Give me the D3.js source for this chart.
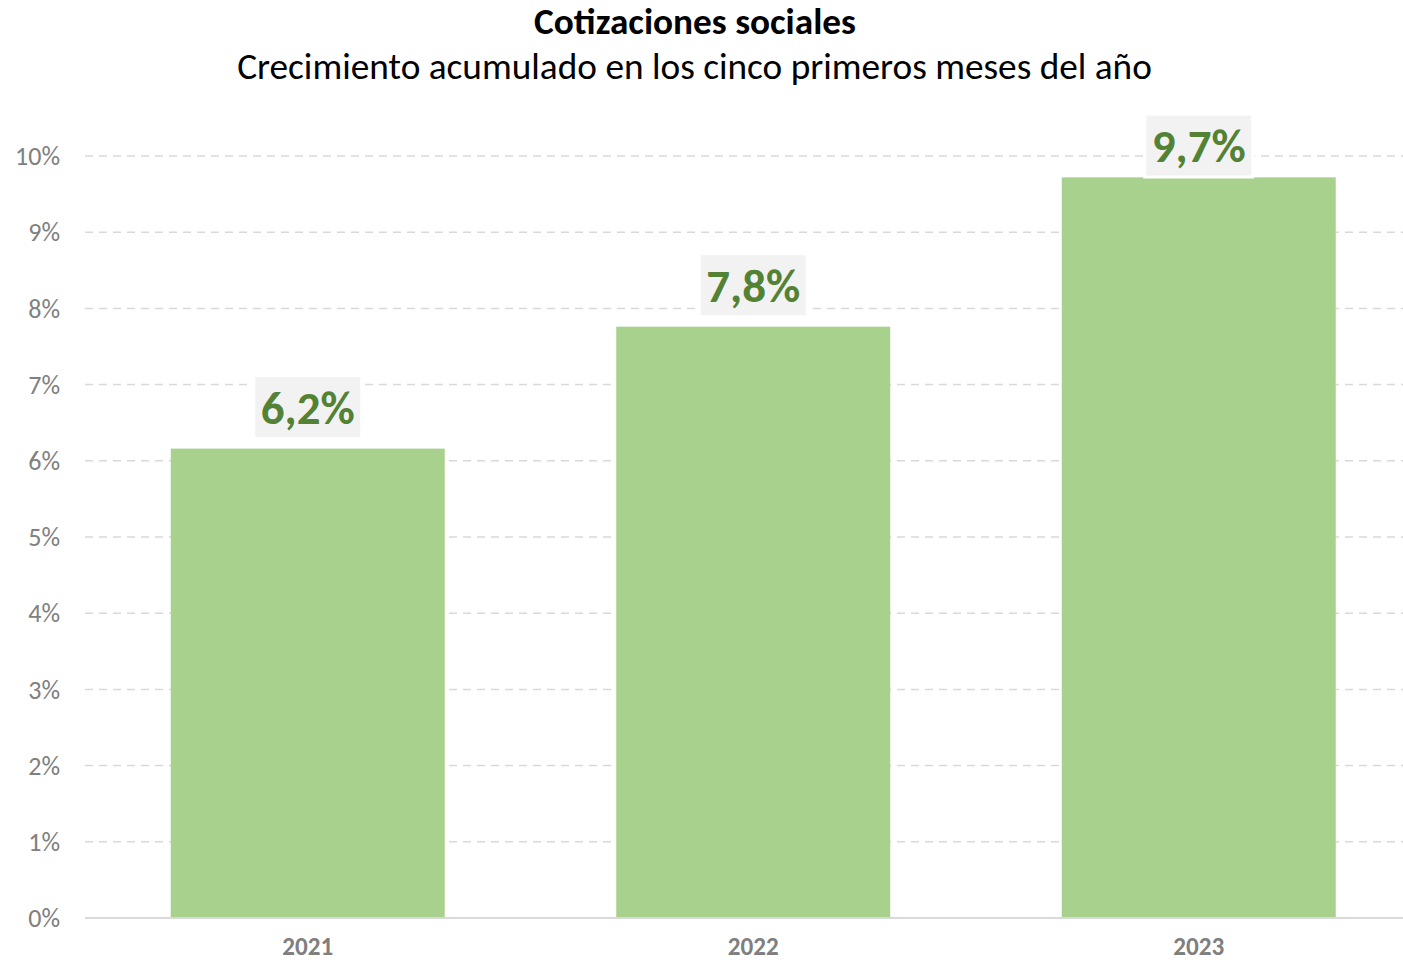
<!DOCTYPE html>
<html><head><meta charset="utf-8">
<script src="https://cdn.jsdelivr.net/npm/d3@7"></script>
<style>
html,body{margin:0;padding:0;background:#fff;}
text{font-family:Carlito, Lato, "Open Sans", sans-serif;}
</style></head>
<body>
<svg id="chart" width="1403" height="963"></svg>
<script>
const titleText = "Cotizaciones sociales";
const subtitleText = "Crecimiento acumulado en los cinco primeros meses del año";
const categories = ["2021", "2022", "2023"];
const values = [6.16, 7.76, 9.72];
const labels = ["6,2%", "7,8%", "9,7%"];
const yTicks = [0,1,2,3,4,5,6,7,8,9,10];
const yTickLabels = ["0%","1%","2%","3%","4%","5%","6%","7%","8%","9%","10%"];

const svg = d3.select("#chart");
const plot = {left: 85, right: 1403, top: 156, bottom: 918};

const x = d3.scaleBand().domain(categories).range([85, 1421.5]).paddingInner(0.385).paddingOuter(0.1925);
const y = d3.scaleLinear().domain([0, 10]).range([plot.bottom, plot.top]);

function fit(sel, target){
  const w = sel.node().getComputedTextLength();
  const fs = parseFloat(sel.attr("font-size"));
  sel.attr("font-size", fs * target / w);
}

// titles
const t1 = svg.append("text").attr("x", 695).attr("y", 34).attr("text-anchor","middle")
  .attr("font-size", 30).attr("font-weight","bold").attr("fill","#000").text(titleText);
fit(t1, 322);
const t2 = svg.append("text").attr("x", 694.5).attr("y", 79).attr("text-anchor","middle")
  .attr("font-size", 30).attr("fill","#000").text(subtitleText);
fit(t2, 915);

// gridlines
svg.append("g").selectAll("line").data(yTicks.filter(d => d > 0)).join("line")
  .attr("x1", plot.left).attr("x2", plot.right)
  .attr("y1", d => y(d)).attr("y2", d => y(d))
  .attr("stroke", "#d9d9d9").attr("stroke-width", 1.5).attr("stroke-dasharray", "8,6");

// y labels
const yl = svg.append("g").selectAll("text").data(yTicks).join("text")
  .attr("x", 60).attr("y", d => y(d)).attr("dy", "0.35em").attr("text-anchor","end")
  .attr("font-size", 24).attr("fill", "#808080").text((d,i) => yTickLabels[i]);
const w10 = yl.filter(d => d === 10).node().getComputedTextLength();
yl.attr("font-size", 24 * 45 / w10);

// bars
svg.append("g").selectAll("rect").data(values).join("rect")
  .attr("x", (d,i) => x(categories[i])).attr("width", x.bandwidth())
  .attr("y", d => y(d)).attr("height", d => y(0) - y(d))
  .attr("fill", "#a9d18e");

// baseline
svg.append("line").attr("x1", plot.left).attr("x2", plot.right)
  .attr("y1", y(0)).attr("y2", y(0)).attr("stroke", "#d9d9d9").attr("stroke-width", 2);

// x labels
const xl = svg.append("g").selectAll("text").data(categories).join("text")
  .attr("x", d => x(d) + x.bandwidth()/2).attr("y", 955).attr("text-anchor","middle")
  .attr("font-size", 24).attr("font-weight","bold").attr("fill", "#7f7f7f").text(d => d);
const wx = xl.node().getComputedTextLength();
xl.attr("font-size", 24 * 51 / wx);

// data labels
const boxH = 63, boxW = 108;
const lg = svg.append("g").selectAll("g").data(values).join("g")
  .attr("transform", (d,i) => {
    const cx = x(categories[i]) + x.bandwidth()/2;
    let bottom = y(d) - 10;
    if (bottom - boxH < 114) bottom = 114 + boxH;
    return `translate(${cx},${bottom - boxH/2})`;
  });
lg.append("rect").attr("x", -boxW/2).attr("y", -boxH/2).attr("width", boxW).attr("height", boxH)
  .attr("fill", "#f2f2f2").attr("stroke", "#fff").attr("stroke-width", 3);
lg.append("text").attr("text-anchor","middle").attr("dy","0.36em")
  .attr("font-size", 42).attr("font-weight","bold").attr("fill","#548235")
  .text((d,i) => labels[i])
  .each(function(){ fit(d3.select(this), 94); });
</script>
</body></html>
